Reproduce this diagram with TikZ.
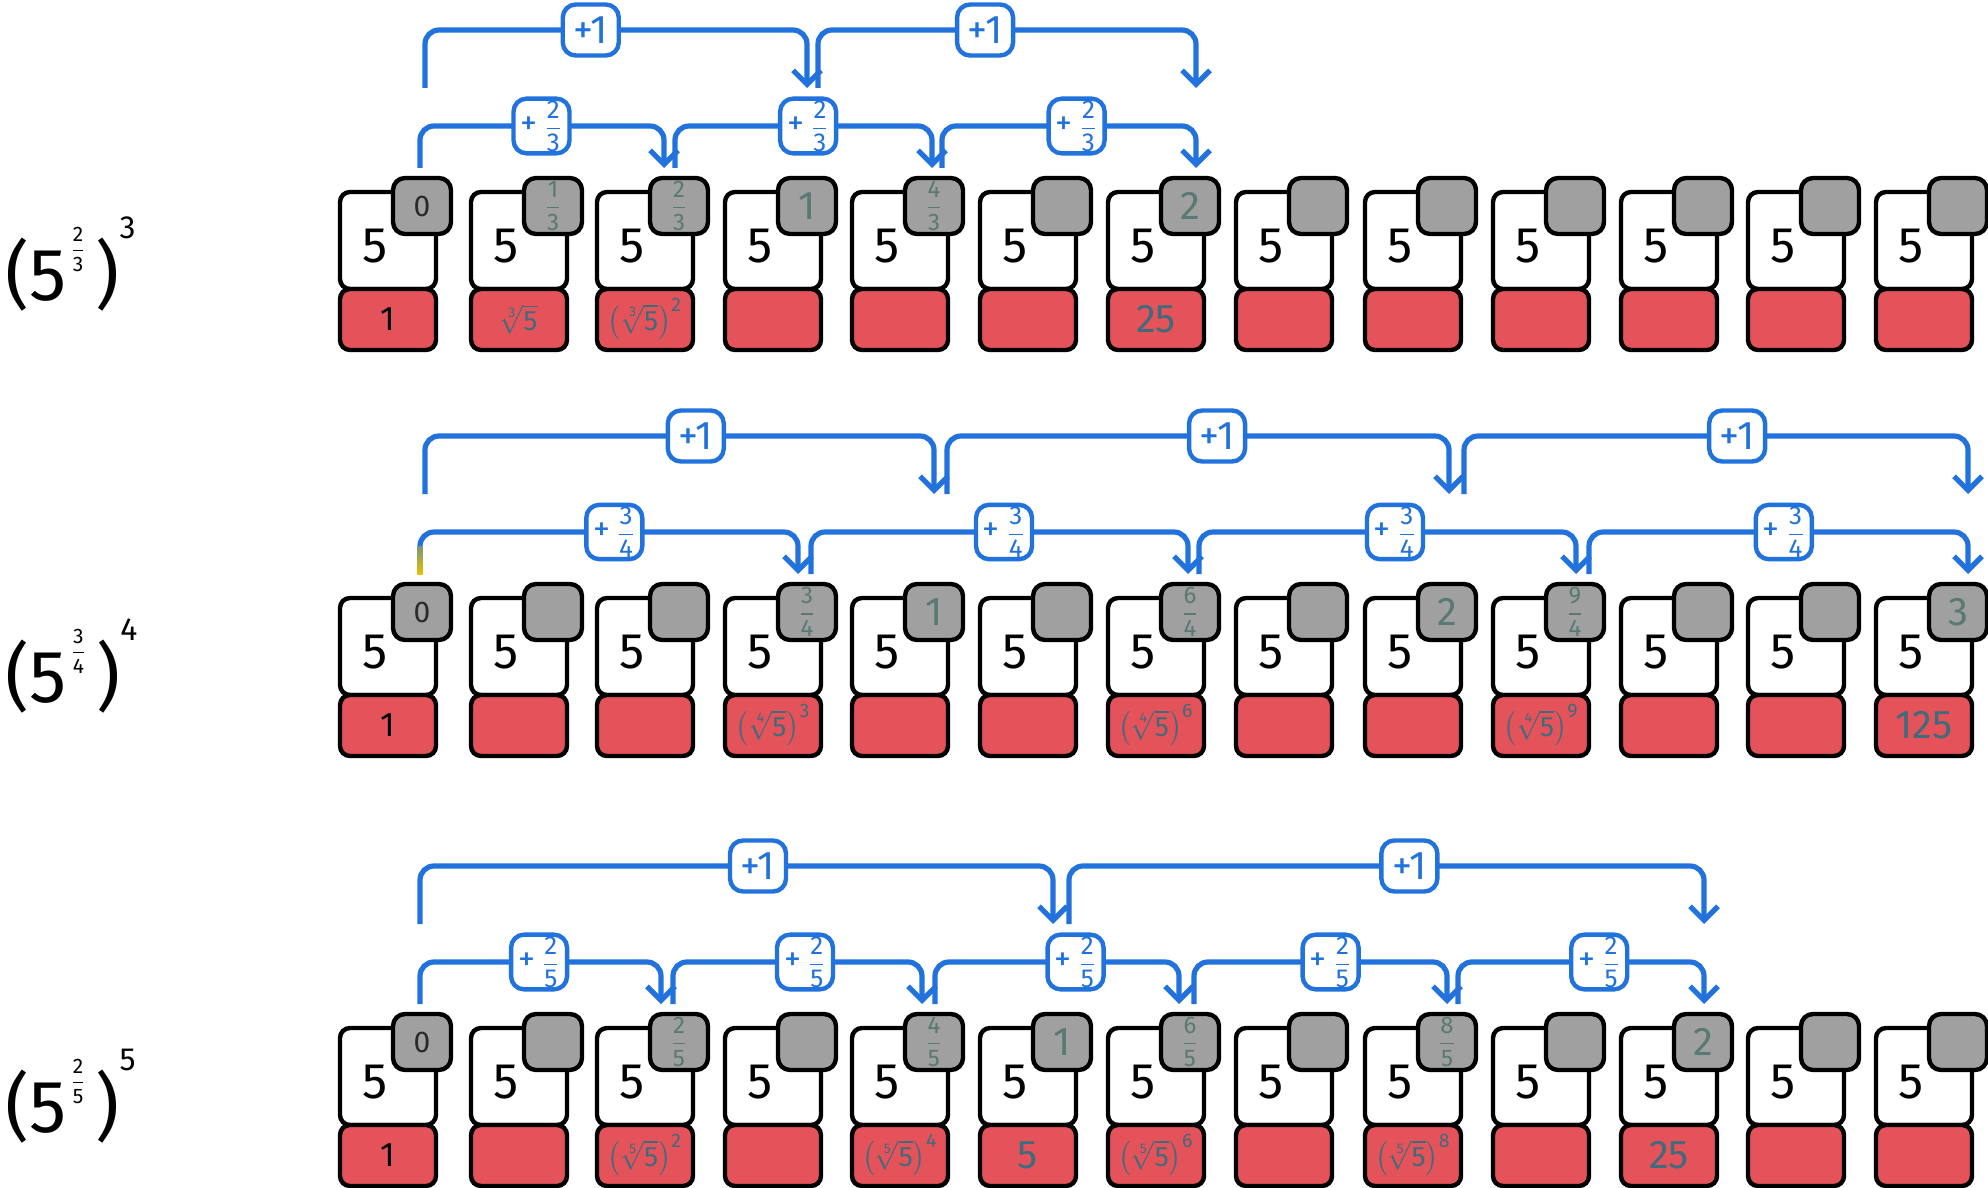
\documentclass[tikz,border=0pt]{standalone}
\usepackage{amsmath}
\usepackage{fontspec}
\setmainfont{Fira Sans}
\usetikzlibrary{arrows.meta,positioning}

\definecolor{arcblue}{HTML}{2272DE}
\definecolor{cellred}{HTML}{E5535A}
\definecolor{badgegray}{HTML}{A0A0A0}
\definecolor{exptext}{HTML}{587A72}
\definecolor{valtext}{HTML}{3F6B7D}
\definecolor{zerotext}{HTML}{2A2A2A}
\definecolor{startyellow}{HTML}{E6C000}

% small pieces of text
\newcommand{\fr}[2]{$\genfrac{}{}{0.6pt}{0}{\text{#1}}{\text{#2}}$}
\newcommand{\expzero}{{\color{zerotext}\fontsize{15}{15}\selectfont 0}}
\newcommand{\expfrac}[2]{{\color{exptext}\fontsize{12}{12}\selectfont\fr{#1}{#2}}}
\newcommand{\expnum}[1]{{\color{exptext}\fontsize{20}{20}\selectfont #1}}
\newcommand{\valone}{{\fontsize{17}{17}\selectfont 1}}
\newcommand{\valnum}[1]{{\color{valtext}\fontsize{20}{20}\selectfont #1}}
\newcommand{\valroot}[1]{{\color{valtext}\fontsize{14}{14}\selectfont$\sqrt[\text{#1}]{\text{5}}$}}
\newcommand{\valpow}[2]{{\color{valtext}\fontsize{14}{14}\selectfont$\left(\sqrt[\text{#1}]{\text{5}}\right)^{\text{#2}}$}}
\newcommand{\plusfr}[2]{{\fontsize{17}{17}\selectfont+}\,{\fontsize{13}{13}\selectfont\fr{#1}{#2}}}
\newcommand{\lhsexpr}[3]{\fontsize{37}{37}\selectfont(5\kern2pt\raisebox{22pt}{\fontsize{10.5}{10.5}\selectfont\fr{#1}{#2}}\kern5pt)\raisebox{31pt}{\fontsize{16}{16}\selectfont #3}}

\tikzset{
  cell/.style={draw=black, line width=2.2pt, fill=white, rounded corners=5pt,
    minimum width=48pt, minimum height=48.5pt, inner sep=0pt, outer sep=0pt},
  five/.style={inner sep=0pt, font=\fontsize{25}{25}\selectfont},
  valbox/.style={draw=black, line width=2.2pt, fill=cellred, rounded corners=5pt,
    minimum width=48pt, minimum height=30.5pt, inner sep=0pt, outer sep=0pt},
  badge/.style={draw=black, line width=2.2pt, fill=badgegray, rounded corners=6pt,
    minimum width=29pt, minimum height=28pt, inner sep=0pt, outer sep=0pt},
  arc/.style={draw=arcblue, line width=2.6pt, rounded corners=7pt,
    -{Straight Barb[length=7pt,width=14pt]}},
  steplbl/.style={draw=arcblue, line width=2.2pt, fill=white, text=arcblue,
    rounded corners=6.5pt, minimum width=28pt, minimum height=25.5pt, inner sep=1pt,
    font=\fontsize{20}{20}\selectfont},
  lhs/.style={anchor=base west, inner sep=0pt}
}

% one row of 13 cells: #1 row, #2 top (px), #3 exponent/value list
\newcommand{\cellrow}[3]{%
  \foreach \ex/\val [count=\c] in {#3} {
    \pgfmathsetmacro{\L}{{339,470,596,724,851,979,1107,1235,1364,1492,1620,1747,1875}[\c-1]}
    \node[cell] (w#1-\c) at ({\L+49},{#2+49.5}) {};
    \node[five] (f#1-\c) at ([xshift=-6.5pt,yshift=-3pt]w#1-\c.center) {5};
    \node[valbox, below=0pt of w#1-\c] (v#1-\c) {\val};
    \node[badge] (e#1-\c) at ([xshift=-7pt,yshift=-7pt]w#1-\c.north east) {\ex};
    \coordinate (lo#1-\c) at ([yshift=5pt]e#1-\c.north);
    \coordinate (hi#1-\c) at ([yshift=45pt]e#1-\c.north);
  }%
}

\begin{document}
\begin{tikzpicture}[x=0.5pt,y=-0.5pt]
    \useasboundingbox (0,0) rectangle (1988,1188);

    % Left hand sides
    \node[lhs] (lhs1) at (5,300) {\lhsexpr{2}{3}{3}};
    \node[lhs] (lhs2) at (5,702) {\lhsexpr{3}{4}{4}};
    \node[lhs] (lhs3) at (5,1132) {\lhsexpr{2}{5}{5}};

    % Row 1: thirds
    \cellrow{1}{191}{\expzero/\valone, {\expfrac{1}{3}}/{\valroot{3}}, {\expfrac{2}{3}}/{\valpow{3}{2}},
      {\expnum{1}}/{}, {\expfrac{4}{3}}/{}, {}/{}, {\expnum{2}}/{\valnum{25}},
      {}/{}, {}/{}, {}/{}, {}/{}, {}/{}, {}/{}}

    % Row 2: quarters
    \cellrow{2}{597}{\expzero/\valone, {}/{}, {}/{}, {\expfrac{3}{4}}/{\valpow{4}{3}},
      {\expnum{1}}/{}, {}/{}, {\expfrac{6}{4}}/{\valpow{4}{6}}, {}/{},
      {\expnum{2}}/{}, {\expfrac{9}{4}}/{\valpow{4}{9}}, {}/{}, {}/{}, {\expnum{3}}/{\valnum{125}}}

    % Row 3: fifths
    \cellrow{3}{1027}{\expzero/\valone, {}/{}, {\expfrac{2}{5}}/{\valpow{5}{2}}, {}/{},
      {\expfrac{4}{5}}/{\valpow{5}{4}}, {\expnum{1}}/{\valnum{5}}, {\expfrac{6}{5}}/{\valpow{5}{6}},
      {}/{}, {\expfrac{8}{5}}/{\valpow{5}{8}}, {}/{}, {\expnum{2}}/{\valnum{25}}, {}/{}, {}/{}}

    % Row 1 jumps
    \draw[arc] ([xshift=1.5pt]hi1-1) -- ++(0,-58) -| node[steplbl,pos=0.217] (up1-1) {+1} (hi1-4);
    \draw[arc] ([xshift=5.5pt]hi1-4) -- ++(0,-58) -| node[steplbl,pos=0.221] (up1-2) {+1} ([xshift=3pt]hi1-7);
    \draw[arc] ([xshift=-1pt]lo1-1) -- ++(0,-42) -| node[steplbl,pos=0.249] (dn1-1) {\plusfr{2}{3}} ([xshift=-7.5pt]lo1-3);
    \draw[arc] ([xshift=-2pt]lo1-3) -- ++(0,-42) -| node[steplbl,pos=0.259] (dn1-2) {\plusfr{2}{3}} ([xshift=-1pt]lo1-5);
    \draw[arc] ([xshift=4pt]lo1-5) -- ++(0,-42) -| node[steplbl,pos=0.265] (dn1-3) {\plusfr{2}{3}} ([xshift=3pt]lo1-7);

    % Row 2 jumps
    \draw[arc] ([xshift=1.5pt]hi2-1) -- ++(0,-58) -| node[steplbl,pos=0.266] (up2-1) {+1} (hi2-5);
    \draw[arc] ([xshift=6.5pt]hi2-5) -- ++(0,-58) -| node[steplbl,pos=0.269] (up2-2) {+1} ([xshift=1pt]hi2-9);
    \draw[arc] ([xshift=8.5pt]hi2-9) -- ++(0,-58) -| node[steplbl,pos=0.271] (up2-3) {+1} ([xshift=5pt]hi2-13);
    \draw[arc] ([xshift=-1pt]lo2-1) -- ++(0,-42) -| node[steplbl,pos=0.257] (dn2-1) {\plusfr{3}{4}} ([xshift=-4.5pt]lo2-4);
    \draw[arc] ([xshift=2pt]lo2-4) -- ++(0,-42) -| node[steplbl,pos=0.256] (dn2-2) {\plusfr{3}{4}} ([xshift=-1pt]lo2-7);
    \draw[arc] ([xshift=4.5pt]lo2-7) -- ++(0,-42) -| node[steplbl,pos=0.26] (dn2-3) {\plusfr{3}{4}} ([xshift=0.5pt]lo2-10);
    \draw[arc] ([xshift=7pt]lo2-10) -- ++(0,-42) -| node[steplbl,pos=0.257] (dn2-4) {\plusfr{3}{4}} ([xshift=5pt]lo2-13);
    \shade[bottom color=startyellow, top color=startyellow!45!arcblue]
      ([xshift=-2.3pt]lo2-1) rectangle ([xshift=0.3pt,yshift=14pt]lo2-1);

    % Row 3 jumps
    \draw[arc] ([xshift=-1pt]hi3-1) -- ++(0,-58) -| node[steplbl,pos=0.267] (up3-1) {+1} ([xshift=-4.5pt]hi3-6);
    \draw[arc] ([xshift=3.5pt]hi3-6) -- ++(0,-58) -| node[steplbl,pos=0.268] (up3-2) {+1} ([xshift=0.5pt]hi3-11);
    \draw[arc] ([xshift=-1pt]lo3-1) -- ++(0,-42) -| node[steplbl,pos=0.247] (dn3-1) {\plusfr{2}{5}} ([xshift=-9pt]lo3-3);
    \draw[arc] ([xshift=-3pt]lo3-3) -- ++(0,-42) -| node[steplbl,pos=0.265] (dn3-2) {\plusfr{2}{5}} ([xshift=-6pt]lo3-5);
    \draw[arc] ([xshift=0.5pt]lo3-5) -- ++(0,-42) -| node[steplbl,pos=0.288] (dn3-3) {\plusfr{2}{5}} ([xshift=-5.5pt]lo3-7);
    \draw[arc] ([xshift=2pt]lo3-7) -- ++(0,-42) -| node[steplbl,pos=0.27] (dn3-4) {\plusfr{2}{5}} (lo3-9);
    \draw[arc] ([xshift=5.5pt]lo3-9) -- ++(0,-42) -| node[steplbl,pos=0.287] (dn3-5) {\plusfr{2}{5}} ([xshift=0.5pt]lo3-11);
\end{tikzpicture}
\end{document}
